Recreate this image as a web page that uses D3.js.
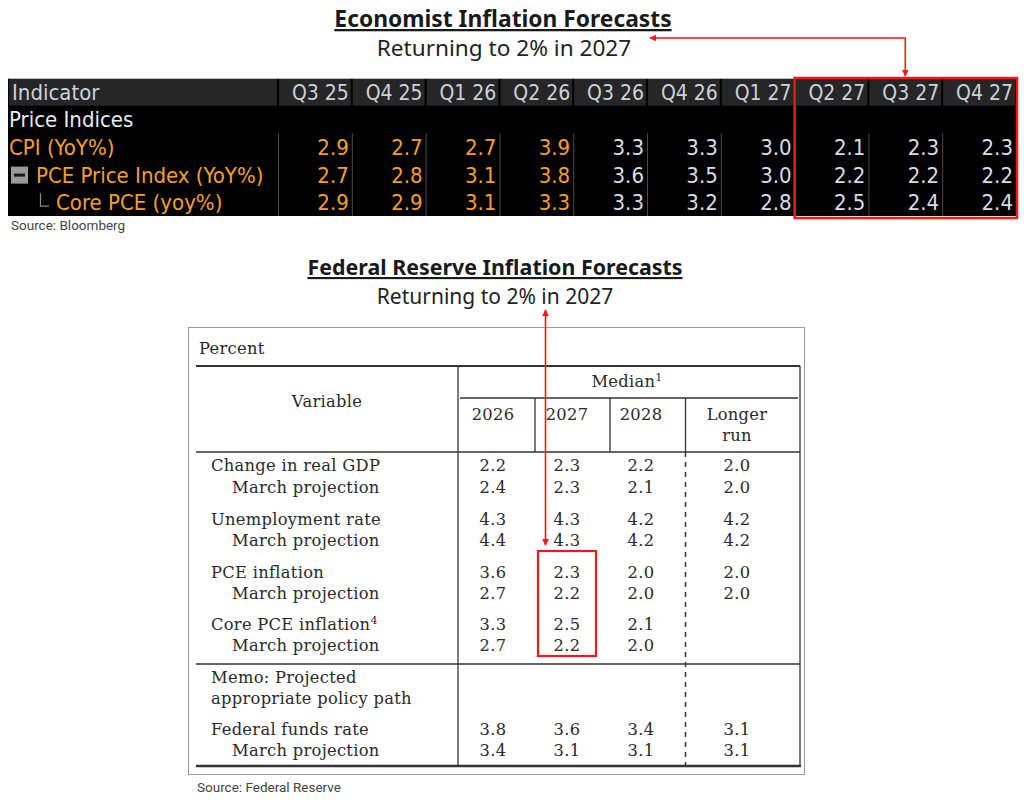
<!DOCTYPE html>
<html>
<head>
<meta charset="utf-8">
<script src="https://cdn.jsdelivr.net/npm/d3@7"></script>
<style>
  body { margin: 0; background: #fff; }
  svg { display: block; }
</style>
</head>
<body>
<svg id="chart" width="1024" height="803"></svg>
<script>
// ---- economist table (Bloomberg) ----
var quarters = ["Q3 25", "Q4 25", "Q1 26", "Q2 26", "Q3 26", "Q4 26", "Q1 27", "Q2 27", "Q3 27", "Q4 27"];
var cpi = [2.9, 2.7, 2.7, 3.9, 3.3, 3.3, 3.0, 2.1, 2.3, 2.3];
var pce = [2.7, 2.8, 3.1, 3.8, 3.6, 3.5, 3.0, 2.2, 2.2, 2.2];
var corePce = [2.9, 2.9, 3.1, 3.3, 3.3, 3.2, 2.8, 2.5, 2.4, 2.4];
var ecoRows = ["Indicator", "Price Indices", "CPI (YoY%)", "PCE Price Index (YoY%)", "Core PCE (yoy%)"];

// ---- fed table (SEP) ----
var fedCols = ["2026", "2027", "2028", "Longer run"];
var fedLabels = ["Change in real GDP", "March projection", "Unemployment rate", "March projection",
  "PCE inflation", "March projection", "Core PCE inflation", "March projection",
  "Memo: Projected", "appropriate policy path", "Federal funds rate", "March projection"];
var gdp = [2.2, 2.3, 2.2, 2.0], gdpMarch = [2.4, 2.3, 2.1, 2.0];
var unemp = [4.3, 4.3, 4.2, 4.2], unempMarch = [4.4, 4.3, 4.2, 4.2];
var pceInfl = [3.6, 2.3, 2.0, 2.0], pceMarch = [2.7, 2.2, 2.0, 2.0];
var coreInfl = [3.3, 2.5, 2.1, null], coreMarch = [2.7, 2.2, 2.0, null];
var fedFunds = [3.8, 3.6, 3.4, 3.1], fedFundsMarch = [3.4, 3.1, 3.1, 3.1];
var fedValues = [gdp, gdpMarch, unemp, unempMarch, pceInfl, pceMarch, coreInfl, coreMarch,
  null, null, fedFunds, fedFundsMarch];

var svg = d3.select("#chart");
var red = "#f01818";

var defs = svg.append("defs");
defs.append("marker").attr("id", "head")
  .attr("viewBox", "0 0 10 10").attr("refX", 9).attr("refY", 5)
  .attr("markerWidth", 4.5).attr("markerHeight", 4.5).attr("orient", "auto-start-reverse")
  .append("path").attr("d", "M0,0L10,5L0,10z").attr("fill", red);

function title(txt, x, y, size) {
  svg.append("text").attr("x", x).attr("y", y).attr("text-anchor", "middle")
    .attr("font-family", "Noto Sans").attr("font-weight", "bold").attr("font-size", size)
    .attr("fill", "#1a1a1a").style("text-decoration", "underline").text(txt);
}
function subtitle(txt, x, y, size) {
  svg.append("text").attr("x", x).attr("y", y).attr("text-anchor", "middle")
    .attr("font-family", "Noto Sans").attr("font-size", size)
    .attr("fill", "#222").text(txt);
}

title("Economist Inflation Forecasts", 503, 27, 22.8);
subtitle("Returning to 2% in 2027", 504, 56, 22.6);

// top table
var eco = svg.append("g");
var x = d3.scaleBand().domain(quarters).range([278, 1016]);
var y = d3.scaleBand().domain(ecoRows).range([78, 216]);
var sans = "DejaVu Sans Condensed";
var lblSize = 22, numSize = 21;

eco.append("rect").attr("x", 8).attr("y", 78).attr("width", 1010).attr("height", 138).attr("fill", "#000");
eco.append("line").attr("x1", 8).attr("x2", 1018).attr("y1", 78.5).attr("y2", 78.5).attr("stroke", "#b8b8b8");
eco.append("rect").attr("x", 9).attr("y", 79).attr("width", 268).attr("height", y.bandwidth() - 1).attr("fill", "#262626");
eco.selectAll("rect.hcell").data(quarters).join("rect").attr("class", "hcell")
  .attr("x", function(d) { return x(d) + 1; }).attr("y", 79)
  .attr("width", x.bandwidth() - 2).attr("height", y.bandwidth() - 1).attr("fill", "#262626");

eco.append("text").attr("x", 12).attr("y", y("Indicator") + y.bandwidth() / 2 + 8)
  .attr("font-family", sans).attr("font-size", lblSize).attr("fill", "#ccd2db").text("Indicator");
eco.selectAll("text.hq").data(quarters).join("text").attr("class", "hq")
  .attr("x", function(d) { return x(d) + x.bandwidth() - 3; })
  .attr("y", y("Indicator") + y.bandwidth() / 2 + 8)
  .attr("text-anchor", "end").attr("font-family", sans).attr("font-size", numSize).attr("fill", "#ccd2db")
  .text(function(d) { return d; });

eco.append("text").attr("x", 9).attr("y", y("Price Indices") + y.bandwidth() / 2 + 8)
  .attr("font-family", sans).attr("font-size", lblSize).attr("fill", "#e4ecf7").text("Price Indices");

// separators in body
eco.selectAll("line.sep").data(quarters).join("line").attr("class", "sep")
  .attr("x1", function(d) { return x(d) + 0.5; }).attr("x2", function(d) { return x(d) + 0.5; })
  .attr("y1", y("CPI (YoY%)")).attr("y2", 216).attr("stroke", "#4a4a4a");

var orange = "#f3a12b";
var seriesRows = [
  { label: "CPI (YoY%)", vals: cpi, lx: 9 },
  { label: "PCE Price Index (YoY%)", vals: pce, lx: 36 },
  { label: "Core PCE (yoy%)", vals: corePce, lx: 56 }
];
seriesRows.forEach(function(r) {
  var cy = y(r.label) + y.bandwidth() / 2 + 8;
  eco.append("text").attr("x", r.lx).attr("y", cy).attr("font-family", sans).attr("font-size", lblSize)
    .attr("fill", orange).text(r.label);
  eco.selectAll(null).data(r.vals).join("text")
    .attr("x", function(d, i) { return x(quarters[i]) + x.bandwidth() - 3; })
    .attr("y", cy).attr("text-anchor", "end").attr("font-family", sans).attr("font-size", lblSize)
    .attr("fill", function(d, i) { return i < 4 ? orange : "#d7dde6"; })
    .text(function(d) { return d.toFixed(1); });
});
// collapse box and tree mark
var pcy = y("PCE Price Index (YoY%)") + y.bandwidth() / 2;
eco.append("rect").attr("x", 11).attr("y", pcy - 8).attr("width", 17).attr("height", 17).attr("fill", "#9a9a9a");
eco.append("rect").attr("x", 14).attr("y", pcy - 1).attr("width", 11).attr("height", 3).attr("fill", "#1a1a1a");
var ccy = y("Core PCE (yoy%)") + y.bandwidth() / 2;
eco.append("path").attr("d", "M40.5," + (ccy - 9) + "V" + (ccy + 4) + "H49")
  .attr("fill", "none").attr("stroke", "#8a8a8a").attr("stroke-width", 1.2);

// highlight box and arrow
eco.append("rect").attr("x", x("Q2 27")).attr("y", 78).attr("width", 1017 - x("Q2 27")).attr("height", 140)
  .attr("fill", "none").attr("stroke", red).attr("stroke-width", 2.5);
var ax = x("Q3 27") + x.bandwidth() / 2;
svg.append("path").attr("d", "M650,38H" + ax + "V76")
  .attr("fill", "none").attr("stroke", red).attr("stroke-width", 1.6)
  .attr("marker-start", "url(#head)").attr("marker-end", "url(#head)");

svg.append("text").attr("x", 11).attr("y", 230).attr("font-family", "Roboto").attr("font-size", 13.5)
  .attr("fill", "#444").text("Source: Bloomberg");

// ---- fed ----
title("Federal Reserve Inflation Forecasts", 495, 275, 21.4);
subtitle("Returning to 2% in 2027", 495, 304, 21);

var fed = svg.append("g").attr("letter-spacing", 0.3);
var serif = "DejaVu Serif";
var fs = 16.3;
var ink = "#2a2a2a";
fed.append("rect").attr("x", 188.5).attr("y", 327.5).attr("width", 616).attr("height", 447)
  .attr("fill", "none").attr("stroke", "#9a9a9a").attr("stroke-width", 1);
fed.append("text").attr("x", 199).attr("y", 354).attr("font-family", serif).attr("font-size", fs)
  .attr("fill", ink).text("Percent");

// value columns (centres) and row centres
var fcx = d3.scaleOrdinal().domain(fedCols).range([493, 567, 641, 737]);
var rowY = [466, 488, 520, 541, 573, 594, 625, 646, 678, 699, 730, 751];

var line = function(x1, y1, x2, y2, w, dash) {
  fed.append("line").attr("x1", x1).attr("y1", y1).attr("x2", x2).attr("y2", y2)
    .attr("stroke", "#333").attr("stroke-width", w || 1).attr("stroke-dasharray", dash || null);
};
line(196, 366, 800, 366, 2);
line(800, 366, 800, 766, 1.3);
line(458, 366, 458, 766, 1.3);
line(460, 398, 798, 398, 1.3);
line(196, 452, 800, 452, 1.5);
line(196, 664, 800, 664, 1.5);
line(196, 766, 801, 766, 2.5);
line(535, 398, 535, 452, 1.3);
line(610, 398, 610, 452, 1.3);
line(685.5, 398, 685.5, 452, 1.3);
line(685.5, 452, 685.5, 766, 1.5, "5,5");

fed.append("text").attr("x", 327).attr("y", 407).attr("text-anchor", "middle")
  .attr("font-family", serif).attr("font-size", fs).attr("fill", ink).text("Variable");
var med = fed.append("text").attr("x", 627).attr("y", 387).attr("text-anchor", "middle")
  .attr("font-family", serif).attr("font-size", fs).attr("fill", ink);
med.append("tspan").text("Median");
med.append("tspan").attr("font-size", 11).attr("dy", -6).text("1");

fed.selectAll("text.yr").data(fedCols).join("text").attr("class", "yr")
  .attr("x", function(d) { return fcx(d); }).attr("y", 420).attr("text-anchor", "middle")
  .attr("font-family", serif).attr("font-size", fs).attr("fill", ink)
  .text(function(d) { return d === "Longer run" ? "Longer" : d; });
fed.append("text").attr("x", fcx("Longer run")).attr("y", 441).attr("text-anchor", "middle")
  .attr("font-family", serif).attr("font-size", fs).attr("fill", ink).text("run");

fedLabels.forEach(function(lab, i) {
  var sub = lab === "March projection";
  var t = fed.append("text").attr("x", sub ? 232 : 211).attr("y", rowY[i] + 5)
    .attr("font-family", serif).attr("font-size", fs).attr("fill", ink);
  t.append("tspan").text(lab);
  if (lab === "Core PCE inflation") t.append("tspan").attr("font-size", 11).attr("dy", -6).text("4");
  var vals = fedValues[i];
  if (!vals) return;
  fed.selectAll(null).data(vals.filter(function(v) { return v != null; })).join("text")
    .attr("x", function(d, j) { return fcx(fedCols[j]); }).attr("y", rowY[i] + 5)
    .attr("text-anchor", "middle").attr("font-family", serif).attr("font-size", fs).attr("fill", ink)
    .text(function(d) { return d.toFixed(1); });
});

// highlight 2027 inflation
fed.append("rect").attr("x", 538).attr("y", 551).attr("width", 58).attr("height", 105)
  .attr("fill", "none").attr("stroke", red).attr("stroke-width", 2.2);
svg.append("path").attr("d", "M545.5,310V545")
  .attr("fill", "none").attr("stroke", red).attr("stroke-width", 1.6)
  .attr("marker-start", "url(#head)").attr("marker-end", "url(#head)");

svg.append("text").attr("x", 197).attr("y", 792).attr("font-family", "Roboto").attr("font-size", 13.5)
  .attr("fill", "#444").text("Source: Federal Reserve");
</script>
</body>
</html>
